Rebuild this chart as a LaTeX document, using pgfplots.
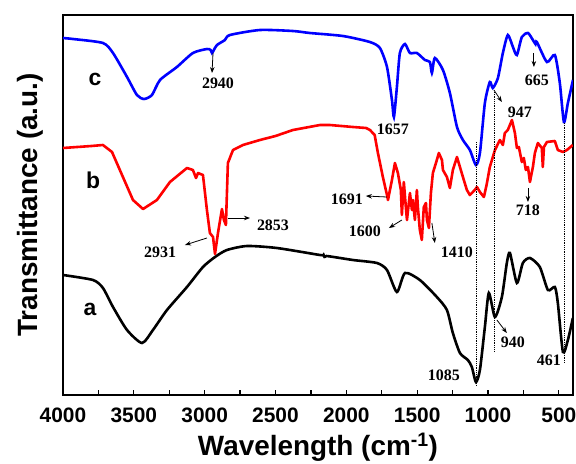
\documentclass[border=0pt]{standalone}
\usepackage{pgfplots}
\pgfplotsset{compat=1.18}
\usepackage{fontspec}
\setmainfont{Liberation Sans}
\newfontfamily\tnr{Liberation Serif}
\usetikzlibrary{arrows.meta}
\begin{document}
\begin{tikzpicture}
\useasboundingbox (-63bp,-69bp) rectangle (513bp,395bp);
\begin{axis}[
  at={(0,0)}, anchor=south west,
  scale only axis, width=510bp, height=380bp,
  x dir=reverse, xmin=400, xmax=4000,
  y dir=reverse, ymin=15, ymax=395,
  xtick={500,1000,...,4000},
  minor xtick={750,1250,...,3750},
  ytick=\empty,
  xtick pos=left,
  tick align=inside,
  major tick length=5bp, minor tick length=5bp,
  axis line style={line width=1.6bp},
  every tick/.style={black, line width=1.2bp},
  ticklabel style={font=\fontsize{21}{21}\selectfont\bfseries},
  xticklabel style={yshift=-9bp},
  /pgf/number format/assume math mode=true,
  /pgf/number format/1000 sep={},
  xlabel={Wavelength (cm\textsuperscript{-1})},
  ylabel={Transmittance (a.u.)},
  label style={font=\fontsize{28}{28}\selectfont\bfseries},
  xlabel style={yshift=-4bp},
  ylabel style={yshift=16bp},
  clip=true,
]
\addplot[black, line width=2.6bp, smooth, tension=0.4] coordinates {
(4000,275)(3788,280)(3718,288)(3647,307)(3548,330)(3442,343)(3365,330)(3266,310)
(3125,287)(3012,267)(2927,257)(2843,250)(2701,246)(2490,248)(2186,255)(2160,255)
(2151,258)(2140,256)(1953,260)(1784,263)(1713,270)(1643,292)(1586,273)(1481,280)
(1361,297)(1290,310)(1248,333)(1198,353)(1142,360)(1114,367)(1085,382)(1057,370)
(1022,327)(994,293)(951,317)(902,297)(867,263)(845,253)(796,283)(754,263)(704,258)
(634,267)(577,290)(528,287)(507,303)(471,352)(436,340)(401,318)
};
\addplot[red, line width=2.6bp, line join=round] coordinates {
(4000,148)(3900,147)(3800,146)(3718,145)(3654,152)(3577,177)(3506,200)(3435,209)(3337,200)(3245,182)
(3125,168)(3083,170)(3061,178)(3047,173)(3012,175)(2984,210)(2963,233)(2941,237)
(2927,254)(2906,233)(2878,209)(2864,220)(2850,225)(2836,163)(2800,150)(2730,145)
(2610,140)(2500,136)(2377,130)(2186,125)(2116,125)(1953,127)(1860,128)(1833,130)(1800,135)
(1777,153)(1742,177)(1713,195)(1706,200)(1678,180)(1657,163)(1636,173)(1615,190)
(1608,215)(1594,182)(1580,207)(1572,220)(1551,193)(1537,210)(1530,200)(1516,220)
(1502,190)(1495,207)(1481,230)(1467,240)(1453,207)(1438,203)(1431,220)(1417,228)
(1403,193)(1389,173)(1361,160)(1347,153)(1325,160)(1318,170)(1290,177)(1269,188)
(1248,170)(1219,157)(1198,167)(1177,177)(1149,190)(1128,195)(1093,190)(1078,187)
(1057,192)(1029,197)(1010,185)(987,167)(951,150)(916,140)(895,145)(881,133)(860,130)
(831,120)(810,133)(796,148)(782,147)(761,162)(747,158)(733,170)(718,167)(704,182)
(683,167)(669,153)(648,143)(620,148)(613,167)(605,147)(584,142)(528,141)(507,150)
(471,152)(443,150)(401,145)
};
\addplot[blue, line width=2.6bp, smooth, tension=0.4] coordinates {
(4000,38)(3929,39)(3718,43)(3647,53)(3548,77)(3478,95)(3428,99)(3372,95)(3315,80)
(3196,67)(3083,53)(2984,49)(2958,50)(2948,53)(2935,50)(2913,45)(2857,40)(2822,35)
(2610,30)(2377,31)(2257,33)(2024,36)(1834,42)(1763,48)(1713,67)(1678,100)(1664,117)
(1643,87)(1622,53)(1586,44)(1551,53)(1502,53)(1445,60)(1410,62)(1396,73)(1375,58)
(1318,70)(1269,93)(1219,127)(1177,140)(1128,150)(1085,165)(1057,153)(1022,103)
(987,82)(966,88)(930,78)(895,53)(860,35)(824,47)(796,55)(761,37)(718,33)(683,40)
(665,44)(655,42)(584,62)(528,55)(493,83)(464,122)(436,103)(400,80)
};
% dotted guide lines
\draw[densely dotted, line width=0.8bp] (axis cs:1085,142) -- (axis cs:1085,385);
\draw[densely dotted, line width=0.8bp] (axis cs:955,92) -- (axis cs:955,352);
\draw[densely dotted, line width=0.8bp] (axis cs:464,123) -- (axis cs:464,362);
% curve labels
\node[anchor=base, font=\fontsize{23}{23}\selectfont\bfseries] at (axis cs:3774,85) {c};
\node[anchor=base, font=\fontsize{23}{23}\selectfont\bfseries] at (axis cs:3788,188) {b};
\node[anchor=base, font=\fontsize{23}{23}\selectfont\bfseries] at (axis cs:3809,315) {a};
% annotations
\tikzset{ann/.style={anchor=base, font=\tnr\bfseries\fontsize{16}{16}\selectfont, inner sep=0pt},
         arr/.style={-{Stealth[length=6bp,width=4.5bp]}, line width=0.8bp}}
\node[ann] at (axis cs:2906,88) {2940};
\node[ann] at (axis cs:1671,134) {1657};
\node[ann] at (axis cs:775,117) {947};
\node[ann] at (axis cs:655,85) {665};
\node[ann] at (axis cs:2518,230) {2853};
\node[ann] at (axis cs:3315,257) {2931};
\node[ann] at (axis cs:1996,204) {1691};
\node[ann] at (axis cs:1869,236) {1600};
\node[ann] at (axis cs:1220,257) {1410};
\node[ann] at (axis cs:718,215) {718};
\node[ann] at (axis cs:1311,380) {1085};
\node[ann] at (axis cs:824,347) {940};
\node[ann] at (axis cs:570,365) {461};
\draw[arr] (axis cs:2941,53) -- (axis cs:2948,73);
\draw[arr] (axis cs:958,90) -- (axis cs:902,102);
\draw[arr] (axis cs:676,53) -- (axis cs:676,67);
\draw[arr] (axis cs:2836,218) -- (axis cs:2680,218);
\draw[arr] (axis cs:2984,238) -- (axis cs:3139,245);
\draw[arr] (axis cs:1714,197) -- (axis cs:1862,196);
\draw[arr] (axis cs:1608,220) -- (axis cs:1699,228);
\draw[arr] (axis cs:1396,223) -- (axis cs:1375,243);
\draw[arr] (axis cs:718,188) -- (axis cs:718,202);
\draw[arr] (axis cs:937,320) -- (axis cs:867,333);
\end{axis}
\end{tikzpicture}
\end{document}
